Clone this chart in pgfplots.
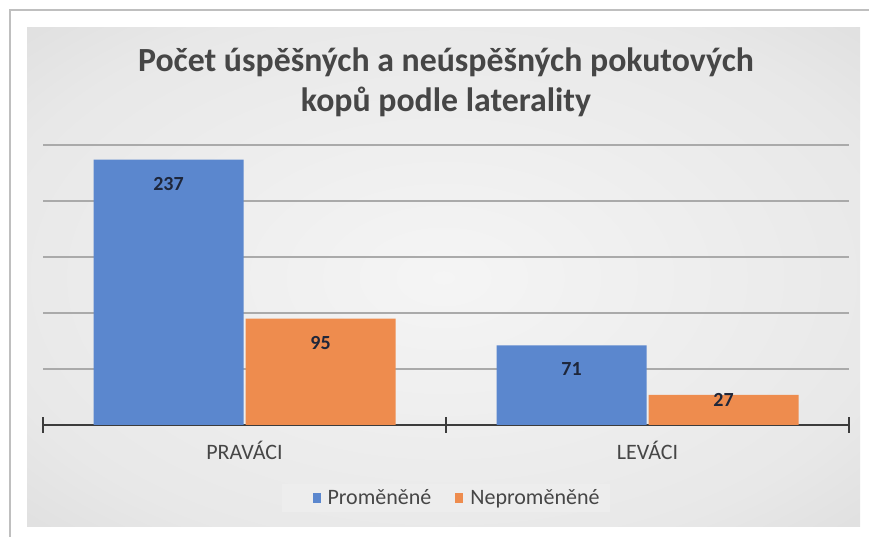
\documentclass[border=0pt]{standalone}
\usepackage{fontspec}
\setmainfont{Carlito}
\usepackage{pgfplots}
\pgfplotsset{compat=1.18}
\definecolor{barblue}{RGB}{91,135,206}
\definecolor{barorange}{RGB}{238,140,78}
\definecolor{txtgray}{RGB}{70,70,70}
\definecolor{lblnavy}{RGB}{30,38,58}
\definecolor{gridgray}{RGB}{170,170,170}
\definecolor{axisgray}{RGB}{60,60,60}
\pgfdeclareradialshading{bgshade}{\pgfpoint{0bp}{0bp}}{color(0bp)=(white!96!black); color(28bp)=(white!91!black); color(50bp)=(white!82!black); color(71bp)=(white!74!black)}

\begin{document}
\begin{tikzpicture}[x=1pt,y=1pt]
\path[use as bounding box] (0,0) rectangle (869,537);
\fill[white] (0,0) rectangle (869,537);
\draw[black!25, line width=1.5pt] (10,-5) -- (10,527) -- (875,527);
\shade[shading=bgshade] (27,10) rectangle (860,509);
\node[font=\bfseries\fontsize{33.8}{40}\selectfont, text=txtgray, align=center] at (446,455) {Počet úspěšných a neúspěšných pokutových\\kopů podle laterality};
\begin{axis}[
  at={(43pt,112pt)}, anchor=south west,
  scale only axis, width=806pt, height=280pt,
  ybar=2pt, bar width=150pt,
  xmin=-0.5, xmax=1.5, ymin=0, ymax=250,
  axis y line=left, y axis line style={draw=none},
  axis x line=bottom,
  x axis line style={-, axisgray, line width=1.3pt},
  xtick={0,1}, xticklabels={PRAVÁCI,LEVÁCI},
  major tick length=0pt,
  x tick style={axisgray, line width=1.3pt},
  y tick style={draw=none},
  extra x ticks={-0.5,0.5,1.5}, extra x tick labels={},
  extra x tick style={major tick length=16pt, tick align=center},
  ytick={50,100,...,250}, yticklabels={},
  ymajorgrids, grid style={gridgray, line width=1.1pt},
  /pgf/number format/assume math mode=true,
  xticklabel style={font=\fontsize{22}{22}\selectfont, text=txtgray, yshift=-13pt},
  nodes near coords,
  visualization depends on={rawy \as \rawy},
  every node near coord/.append style={font=\bfseries\fontsize{20}{20}\selectfont, text=lblnavy, anchor=center, yshift={\rawy<50 ? -5 : -24}},
  legend style={at={(0.5,-0.261)}, anchor=center, legend columns=2, draw=none, fill=white!93!black,
    font=\fontsize{22}{22}\selectfont, text=txtgray, inner xsep=9pt, inner ysep=4pt},
  legend image code/.code={\path[draw=none,fill=none] (-22pt,0) -- (13pt,0); \fill[#1,draw=none] (0pt,-5pt) rectangle (8pt,5pt);},
]
\addplot[fill=barblue, draw=none] coordinates {(0,237) (1,71)};
\addplot[fill=barorange, draw=none] coordinates {(0,95) (1,27)};
\legend{Proměněné, Neproměněné}
\end{axis}
\end{tikzpicture}
\end{document}
